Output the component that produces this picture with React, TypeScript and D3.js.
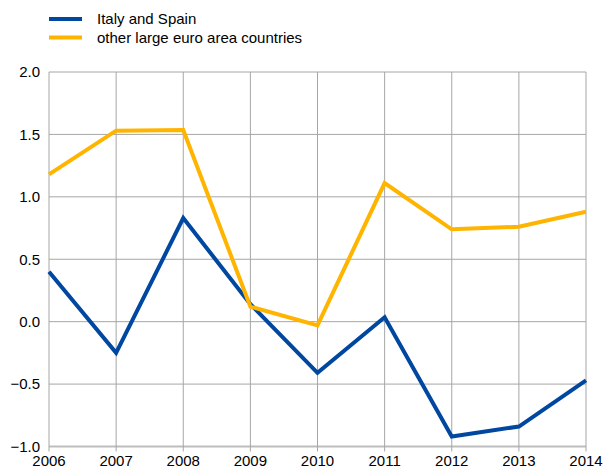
import React from 'react';
import * as d3 from 'd3';

const years = [2006, 2007, 2008, 2009, 2010, 2011, 2012, 2013, 2014];
const italySpain = [0.40, -0.25, 0.83, 0.14, -0.41, 0.035, -0.92, -0.84, -0.47];
const otherLarge = [1.18, 1.53, 1.535, 0.12, -0.03, 1.11, 0.74, 0.76, 0.88];
const yTicks = [-1.0, -0.5, 0.0, 0.5, 1.0, 1.5, 2.0];

const series = [
  { name: 'Italy and Spain', values: italySpain, color: '#0047a0' },
  { name: 'other large euro area countries', values: otherLarge, color: '#ffb400' },
];

export default function App() {
  const width = 603;
  const height = 470;
  const margin = { left: 49, right: 17, top: 72, bottom: 23.5 };

  const x = d3.scaleLinear()
    .domain([2006, 2014])
    .range([margin.left, width - margin.right]);
  const y = d3.scaleLinear()
    .domain([-1, 2])
    .range([height - margin.bottom, margin.top]);

  const line = d3.line<number>()
    .x((_, i) => x(years[i]))
    .y(d => y(d));

  const font = 'Arial, "Liberation Sans", sans-serif';

  return (
    <svg width={width} height={height}
      style={{ position: 'absolute', left: 0, top: 0, fontFamily: font }}>
      <rect width={width} height={height} fill="#fff" />

      {/* gridlines */}
      {yTicks.map(t => (
        <line key={'h' + t} x1={x(2006)} x2={x(2014)} y1={y(t)} y2={y(t)}
          stroke={t === -1 ? '#bdbdbd' : '#a6a6a6'} strokeWidth={t === -1 ? 2 : 1} />
      ))}
      {years.map(yr => (
        <line key={'v' + yr} x1={x(yr)} x2={x(yr)} y1={y(2)} y2={y(-1) + 5}
          stroke="#a6a6a6" strokeWidth={1} />
      ))}

      {/* y labels */}
      {yTicks.map(t => (
        <text key={'yl' + t} x={40} y={y(t)} dy="0.35em" textAnchor="end"
          fontSize={15} fill="#000">{d3.format('.1f')(t)}</text>
      ))}
      {/* x labels */}
      {years.map(yr => (
        <text key={'xl' + yr} x={x(yr)} y={466} textAnchor="middle"
          fontSize={15} fill="#000">{yr}</text>
      ))}

      {/* lines */}
      {series.map(s => (
        <path key={s.name} d={line(s.values) || ''} fill="none"
          stroke={s.color} strokeWidth={4} strokeLinejoin="miter" />
      ))}

      {/* legend */}
      {series.map((s, i) => (
        <g key={'lg' + s.name} transform={`translate(49, ${19 + i * 18.5})`}>
          <line x1={0} x2={33} y1={0} y2={0} stroke={s.color} strokeWidth={4} />
          <text x={48} y={0} dy="0.35em" fontSize={15} fill="#000">{s.name}</text>
        </g>
      ))}
    </svg>
  );
}
